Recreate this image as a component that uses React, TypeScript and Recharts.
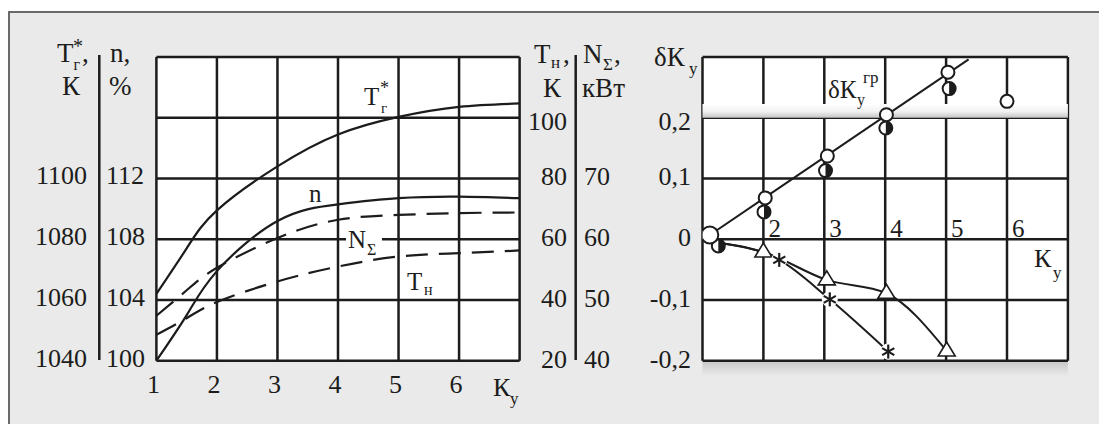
import React from 'react';
import { ComposedChart, Line, Scatter, XAxis, YAxis, CartesianGrid, ReferenceArea } from 'recharts';

const W = 1099;
const H = 424;
const FONT = '"Liberation Serif", "Times New Roman", serif';
const INK = '#1c1c1c';
const BG = '#e9eae9';

// ---------- Left panel data ----------
const kyLeft = [1, 1.5, 2, 3, 4, 5, 6, 7];
const tgStar = [1062, 1077, 1089.5, 1104, 1114.5, 1120.3, 1123.6, 1124.7]; // T_г*, K
const nPct = [100, 103.0, 105.9, 109.2, 110.3, 110.7, 110.8, 110.7]; // n, %
const nSigma = [47.4, 51.6, 55.3, 60.2, 63.2, 64.0, 64.3, 64.4]; // N_Σ, кВт
const tN = [28.5, 34.0, 39.3, 46.1, 51.0, 54.3, 55.4, 56.3]; // T_н, K

const kyTicks = [1, 2, 3, 4, 5, 6, 7];
const kyLabels = ['1', '2', '3', '4', '5', '6', ''];
const tgTicks = [1040, 1060, 1080, 1100, 1120, 1140];
const tgLabeled = [1040, 1060, 1080, 1100];
const nTicks = [100, 104, 108, 112, 116, 120];
const nLabeled = [100, 104, 108, 112];
const tnTicks = [20, 40, 60, 80, 100, 120];
const tnLabeled = [20, 40, 60, 80, 100];
const nsTicks = [40, 50, 60, 70, 80, 90];
const nsLabeled = [40, 50, 60, 70];

// ---------- Right panel data ----------
const grLineKy = [1.12, 5.37];
const grLineVal = [0.007, 0.296];
const openKy = [1.12, 2.03, 3.05, 4.02, 5.03, 6.0];
const openVal = [0.007, 0.068, 0.137, 0.205, 0.275, 0.227];
const halfKy = [1.26, 2.01, 3.02, 4.01, 5.05];
const halfVal = [-0.011, 0.045, 0.113, 0.183, 0.248];
const triKy = [1.15, 2.0, 3.04, 4.02, 5.01];
const triVal = [-0.004, -0.021, -0.067, -0.089, -0.184];
const starKy = [1.15, 2.26, 3.09, 4.05];
const starVal = [-0.004, -0.034, -0.099, -0.185];

const dkTicks = [-0.2, -0.1, 0, 0.1, 0.2, 0.3];
const dkLabeled = [-0.2, -0.1, 0, 0.1, 0.2];
const kyRightLabels = ['', '2', '3', '4', '5', '6', ''];

const zip = (xs: number[], ys: number[]) => xs.map((x, i) => ({ x, y: ys[i] }));

const tgData = zip(kyLeft, tgStar);
const nData = zip(kyLeft, nPct);
const nsData = zip(kyLeft, nSigma);
const tnData = zip(kyLeft, tN);

const grData = zip(grLineKy, grLineVal);
const openData = zip(openKy, openVal);
const halfData = zip(halfKy, halfVal);
const triData = zip(triKy, triVal);
const starData = zip(starKy, starVal);

const fmtDk = (v: number) => (Math.abs(v) < 1e-9 ? '0' : v.toFixed(1).replace('.', ','));

const yTick = (xPos: number, anchor: 'start' | 'end', labeled: number[], fmt: (v: number) => string, dyFn: (v: number) => number, fs = 26) =>
  (props: any) => {
    const v = props.payload?.value;
    if (!labeled.some((l) => Math.abs(l - v) < 1e-9)) return <g />;
    return (
      <text x={xPos} y={props.y + dyFn(v)} textAnchor={anchor} fontFamily={FONT} fontSize={fs} fill={INK}>
        {fmt(v)}
      </text>
    );
  };

const leftXTick = (props: any) => {
  const i = kyTicks.indexOf(props.payload?.value);
  const lbl = i >= 0 ? kyLabels[i] : '';
  if (!lbl) return <g />;
  return (
    <text x={props.x - 3} y={393} textAnchor="middle" fontFamily={FONT} fontSize={26} fill={INK}>
      {lbl}
    </text>
  );
};

const rightXTick = (props: any) => {
  const i = kyTicks.indexOf(props.payload?.value);
  const lbl = i >= 0 ? kyRightLabels[i] : '';
  if (!lbl) return <g />;
  return (
    <text x={props.x + 5} y={236.5} textAnchor="start" fontFamily={FONT} fontSize={25} fill={INK}>
      {lbl}
    </text>
  );
};

const OpenCircle = (props: any) => {
  const big = props.payload && props.payload.x === openKy[0];
  return <circle cx={props.cx} cy={props.cy} r={big ? 8.5 : 6.5} fill="#fff" stroke={INK} strokeWidth={2} />;
};

const HalfCircle = (props: any) => {
  const { cx, cy } = props;
  const r = 6.5;
  return (
    <g>
      <circle cx={cx} cy={cy} r={r} fill="#fff" stroke={INK} strokeWidth={2} />
      <path d={`M${cx},${cy - r} A${r},${r} 0 0 1 ${cx},${cy + r} Z`} fill={INK} />
    </g>
  );
};

const Triangle = (props: any) => {
  const { cx, cy } = props;
  return (
    <path
      d={`M${cx},${cy - 9} L${cx - 8.5},${cy + 5} L${cx + 8.5},${cy + 5} Z`}
      fill="#fff"
      stroke={INK}
      strokeWidth={1.6}
    />
  );
};

const Star = (props: any) => {
  const { cx, cy } = props;
  const a = 7;
  const lines = [90, 30, 150].map((deg) => {
    const r = (deg * Math.PI) / 180;
    return { dx: Math.cos(r) * a, dy: Math.sin(r) * a };
  });
  return (
    <g>
      <circle cx={cx} cy={cy} r={8} fill="#fff" />
      {lines.map((l, i) => (
        <line key={i} x1={cx - l.dx} y1={cy - l.dy} x2={cx + l.dx} y2={cy + l.dy} stroke={INK} strokeWidth={2.2} />
      ))}
    </g>
  );
};

const T = (p: { x: number; y: number; fs?: number; children: React.ReactNode }) => (
  <text x={p.x} y={p.y} fontFamily={FONT} fontSize={p.fs ?? 27} fill={INK}>
    {p.children}
  </text>
);

export default function App() {
  const lineProps = { dot: false, isAnimationActive: false, stroke: INK, strokeWidth: 2.2 } as const;
  return (
    <div style={{ position: 'absolute', left: 0, top: 0, width: W, height: H, background: '#fff', overflow: 'hidden' }}>
      <div
        style={{
          position: 'absolute',
          left: 8,
          top: 11,
          width: W,
          height: H,
          background: BG,
          borderTop: '2px solid #6a6a6a',
          borderLeft: '2px solid #6a6a6a',
        }}
      />
      {/* Left panel */}
      <div style={{ position: 'absolute', left: 0, top: 0 }}>
        <ComposedChart width={W} height={H} margin={{ top: 57, left: 0, right: 459.4, bottom: 23.3 }}>
          <CartesianGrid stroke={INK} strokeWidth={2.5} fill="#fff" />
          <XAxis
            dataKey="x"
            type="number"
            domain={[1, 7]}
            ticks={kyTicks}
            height={40}
            axisLine={false}
            tickLine={false}
            tick={leftXTick}
            allowDataOverflow
          />
          <YAxis
            yAxisId={0}
            orientation="left"
            width={76.4}
            type="number"
            domain={[100, 120]}
            ticks={nTicks}
            axisLine={false}
            tickLine={false}
            tick={yTick(106, 'start', nLabeled, (v) => String(v), () => 6)}
          />
          <YAxis
            yAxisId="tg"
            orientation="left"
            width={80}
            type="number"
            domain={[1040, 1140]}
            ticks={tgTicks}
            axisLine={false}
            tickLine={false}
            tick={yTick(87, 'end', tgLabeled, (v) => String(v), () => 6)}
          />
          <YAxis
            yAxisId="tn"
            orientation="right"
            width={60}
            type="number"
            domain={[20, 120]}
            ticks={tnTicks}
            axisLine={false}
            tickLine={false}
            tick={yTick(567, 'end', tnLabeled, (v) => String(v), (v) => (v === 100 ? 12 : 7))}
          />
          <YAxis
            yAxisId="ns"
            orientation="right"
            width={60}
            type="number"
            domain={[40, 90]}
            ticks={nsTicks}
            axisLine={false}
            tickLine={false}
            tick={yTick(584, 'start', nsLabeled, (v) => String(v), () => 7)}
          />
          <Line data={tgData} dataKey="y" yAxisId="tg" type="natural" {...lineProps} />
          <Line data={nData} dataKey="y" yAxisId={0} type="natural" {...lineProps} />
          <Line data={nsData} dataKey="y" yAxisId="ns" type="natural" strokeDasharray="22 11" {...lineProps} />
          <Line data={tnData} dataKey="y" yAxisId="tn" type="natural" strokeDasharray="22 11" {...lineProps} />
        </ComposedChart>
      </div>
      {/* Right panel */}
      <div style={{ position: 'absolute', left: 0, top: 0 }}>
        <ComposedChart width={W} height={H} margin={{ top: 57, left: 642.5, right: 31.1, bottom: 23.3 }}>
          <defs>
            <linearGradient id="bandGrad" x1="0" y1="0" x2="0" y2="1">
              <stop offset="0%" stopColor="#ffffff" />
              <stop offset="55%" stopColor="#f1f1f1" />
              <stop offset="100%" stopColor="#c4c4c4" />
            </linearGradient>
          </defs>
          <CartesianGrid stroke={INK} strokeWidth={2.5} fill="#fff" />
          <XAxis
            dataKey="x"
            type="number"
            domain={[1, 7]}
            ticks={kyTicks}
            height={40}
            axisLine={false}
            tickLine={false}
            tick={rightXTick}
            allowDataOverflow
          />
          <YAxis
            orientation="left"
            width={60}
            type="number"
            domain={[-0.2, 0.3]}
            ticks={dkTicks}
            axisLine={false}
            tickLine={false}
            tick={yTick(691, 'end', dkLabeled, fmtDk, (v) => (Math.abs(v - 0.2) < 1e-9 ? 12 : 7))}
          />
          <ReferenceArea y1={0.2} y2={0.2225} fill="url(#bandGrad)" fillOpacity={1} stroke="none" ifOverflow="visible" />
          <Line data={grData} dataKey="y" type="linear" {...lineProps} strokeWidth={2} />
          <Line data={triData} dataKey="y" type="monotone" {...lineProps} strokeWidth={2} />
          <Line data={starData} dataKey="y" type="monotone" {...lineProps} strokeWidth={2} />
          <Scatter data={halfData} dataKey="y" shape={HalfCircle} isAnimationActive={false} />
          <Scatter data={openData} dataKey="y" shape={OpenCircle} isAnimationActive={false} />
          <Scatter data={triData.slice(1)} dataKey="y" shape={Triangle} isAnimationActive={false} />
          <Scatter data={starData.slice(1)} dataKey="y" shape={Star} isAnimationActive={false} />
        </ComposedChart>
      </div>
      {/* Annotations */}
      <svg width={W} height={H} style={{ position: 'absolute', left: 0, top: 0, pointerEvents: 'none' }}>
        <defs>
          <linearGradient id="shadowGrad" x1="0" y1="0" x2="0" y2="1">
            <stop offset="0%" stopColor="#c9c9c9" />
            <stop offset="100%" stopColor={BG} />
          </linearGradient>
        </defs>
        <rect x={702.5} y={362} width={365.4} height={14} fill="url(#shadowGrad)" />
        {/* axis separators */}
        <line x1={99.3} y1={55} x2={99.3} y2={360} stroke={INK} strokeWidth={2.5} />
        <line x1={575.7} y1={55} x2={575.7} y2={360} stroke={INK} strokeWidth={2.5} />
        {/* left headers */}
        <T x={57} y={62}>T</T>
        <T x={73} y={53} fs={20}>*</T>
        <T x={73.5} y={70} fs={16}>г</T>
        <T x={82} y={62}>,</T>
        <T x={62} y={95}>К</T>
        <T x={110} y={62}>n,</T>
        <T x={109} y={95}>%</T>
        {/* right headers */}
        <T x={534} y={63}>T</T>
        <T x={551} y={68} fs={17}>н</T>
        <T x={563} y={63}>,</T>
        <T x={543} y={97}>К</T>
        <T x={583} y={63}>N</T>
        <T x={603} y={70} fs={17}>Σ</T>
        <T x={614} y={63}>,</T>
        <T x={582} y={97}>кВт</T>
        <T x={654} y={66}>δК</T>
        <T x={689} y={74} fs={17}>у</T>
        {/* left in-plot labels */}
        <T x={364} y={105} fs={25}>T</T>
        <T x={380} y={94} fs={18}>*</T>
        <T x={381} y={113} fs={15}>г</T>
        <T x={309} y={202} fs={25}>n</T>
        <rect x={346} y={229} width={36} height={26} fill="#fff" />
        <T x={348} y={248} fs={25}>N</T>
        <T x={367} y={255} fs={16}>Σ</T>
        <T x={407} y={290} fs={25}>T</T>
        <T x={424} y={295} fs={16}>н</T>
        <T x={493} y={396} fs={26}>К</T>
        <T x={510} y={404} fs={17}>у</T>
        {/* right in-plot labels */}
        <T x={828} y={98} fs={25}>δК</T>
        <T x={857} y={105} fs={16}>у</T>
        <T x={863} y={83} fs={17}>гр</T>
        <T x={1034} y={267} fs={26}>К</T>
        <T x={1053} y={278} fs={17}>у</T>
      </svg>
    </div>
  );
}
